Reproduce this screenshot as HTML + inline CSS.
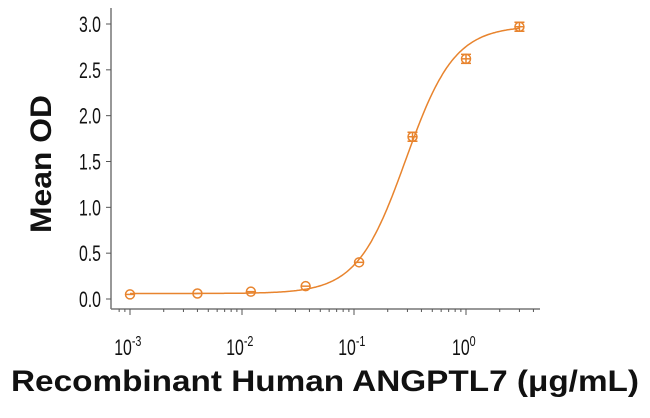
<!DOCTYPE html>
<html><head><style>
html,body{margin:0;padding:0;background:#fff;width:650px;height:418px;overflow:hidden}
svg{display:block}
</style></head><body>
<svg id="s" width="650" height="418" xmlns="http://www.w3.org/2000/svg" font-family="Liberation Sans, sans-serif">
<line x1="111" y1="8" x2="111" y2="309" stroke="#777" stroke-width="1.5"/>
<line x1="111" y1="309" x2="540" y2="309" stroke="#777" stroke-width="1.5"/>
<g id="yt" font-size="22" fill="#111" text-anchor="end"></g>
<g id="xt" stroke="#555" stroke-width="1"></g>
<g id="xl" font-size="22" fill="#111" text-anchor="middle"></g>
<path id="curve" fill="none" stroke="#e8842e" stroke-width="1.5"/>
<g id="pts" fill="none" stroke="#e8842e" stroke-width="1.5"></g>
<text x="0" y="0" transform="translate(51,164) rotate(-90)" text-anchor="middle" font-weight="bold" font-size="30" fill="#111" textLength="138" lengthAdjust="spacingAndGlyphs">Mean OD</text>
<text x="11" y="391" font-weight="bold" font-size="30" fill="#111" textLength="628" lengthAdjust="spacingAndGlyphs">Recombinant Human ANGPTL7 (μg/mL)</text>
</svg>
<script>
var NS="http://www.w3.org/2000/svg";
function el(t,a,p,txt){var e=document.createElementNS(NS,t);for(var k in a)e.setAttribute(k,a[k]);if(txt!=null)e.textContent=txt;document.getElementById(p).appendChild(e);return e;}
function Y(v){return 299-v*(275/3);}
function X(c){return 130+112*(Math.log10(c)+3);}
for(var i=0;i<=6;i++){var v=i*0.5,y=Y(v);
 el('line',{x1:106,y1:y,x2:111,y2:y,stroke:'#555'},'xt');
 el('text',{x:101,y:y+8,transform:'translate(101,0) scale(0.72,1) translate(-101,0)'},'yt',v.toFixed(1));}
for(var d=-4;d<=0;d++){for(var m=1;m<10;m++){var c=m*Math.pow(10,d);var x=X(c);if(x<113||x>540)continue;
 el('line',{x1:x,y1:309,x2:x,y2:m==1?315:312},'xt');}}
[-3,-2,-1,0].forEach(function(e){var x=X(Math.pow(10,e));
 var t=el('text',{x:x-3,y:355,transform:'translate('+x+',0) scale(0.72,1) translate('+(-x)+',0)'},'xl');
 t.textContent='10';var ts=document.createElementNS(NS,'tspan');ts.setAttribute('dy','-9');ts.setAttribute('font-size','15');ts.textContent=String(e);t.appendChild(ts);});
function f(c){return 0.06+2.92/(1+Math.pow(0.29/c,2));}
var d='';for(var i=0;i<=300;i++){var lc=-3+i*(Math.log10(3)+3)/300;var c=Math.pow(10,lc);d+=(i?'L':'M')+X(c).toFixed(1)+' '+Y(f(c)).toFixed(1);}
document.getElementById('curve').setAttribute('d',d);
var P=[[0.001,0.05],[0.004,0.06],[0.012,0.08],[0.037,0.14],[0.111,0.40],[0.333,1.77],[1,2.62],[3,2.97]];
P.forEach(function(p){var x=X(p[0]),y=Y(p[1]);
 el('circle',{cx:x,cy:y,r:4.5},'pts');
 el('line',{x1:x-4.5,y1:y,x2:x+4.5,y2:y},'pts');
 if(p[1]>1.5){el('line',{x1:x-5,y1:y-4.5,x2:x+5,y2:y-4.5},'pts');el('line',{x1:x-5,y1:y+4.5,x2:x+5,y2:y+4.5},'pts');el('line',{x1:x,y1:y-4.5,x2:x,y2:y+4.5},'pts');}});
</script>
</body></html>
